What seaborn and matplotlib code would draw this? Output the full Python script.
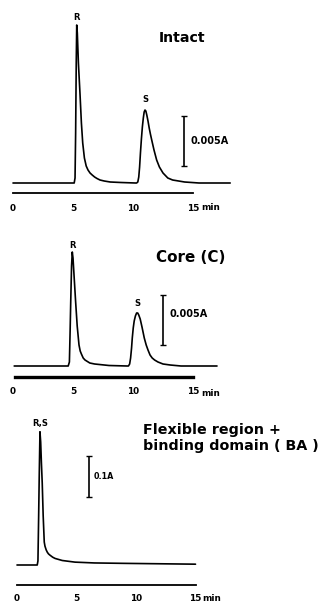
import matplotlib
matplotlib.use("Agg")
import matplotlib.pyplot as plt
import seaborn as sns

# ---------------- data ----------------
# Panel 1: Intact  (time in min, absorbance in A)
intact_t = [0.0, 5.10, 5.17, 5.22, 5.27, 5.31, 5.36, 5.45, 5.58, 5.70, 5.81, 5.95, 6.10,
            6.25, 6.42, 6.60, 6.80, 7.00, 7.25, 7.60, 8.10, 9.00, 10.20,
            10.30, 10.40, 10.48, 10.55, 10.62, 10.70, 10.78, 10.86, 10.93, 11.00, 11.07,
            11.15, 11.25, 11.35, 11.45, 11.56, 11.75, 11.97, 12.20, 12.50, 12.90, 13.30,
            14.30, 15.50, 18.10]
intact_a = [0.0, 0.0, 0.0005, 0.0050, 0.0120, 0.0158, 0.0150, 0.0120, 0.0090, 0.0060, 0.0040,
            0.0025, 0.0017, 0.0013, 0.0010, 0.0008, 0.0006, 0.00045, 0.0003, 0.0002, 0.0001,
            0.00005, 0.0,
            0.0, 0.0001, 0.0006, 0.0016, 0.0030, 0.0044, 0.0056, 0.0065, 0.0071, 0.0073, 0.0072,
            0.0068, 0.0062, 0.0055, 0.0049, 0.0043, 0.0033, 0.0023, 0.0016, 0.0010, 0.0005,
            0.0003, 0.0001, 0.0, 0.0]

# Panel 2: Core (C)
core_t = [0.1, 4.60, 4.70, 4.76, 4.81, 4.88, 4.94, 5.00, 5.10, 5.22, 5.35, 5.50, 5.60, 5.70,
          5.85, 6.00, 6.40, 6.80, 8.00, 9.50,
          9.62, 9.72, 9.80, 9.88, 9.94, 10.02, 10.10, 10.20, 10.30, 10.39, 10.48, 10.60,
          10.75, 10.94, 11.10, 11.25, 11.42, 11.60, 11.80, 12.08, 12.50, 13.10, 14.00, 17.00]
core_a = [0.0, 0.0, 0.0004, 0.0035, 0.0064, 0.0100, 0.0114, 0.0108, 0.0088, 0.0064, 0.0040,
          0.0021, 0.0015, 0.0012, 0.0008, 0.0006, 0.0003, 0.0002, 0.00005, 0.0,
          0.0, 0.0002, 0.0008, 0.0018, 0.0028, 0.0038, 0.0045, 0.0050, 0.0053, 0.0053, 0.0051,
          0.0047, 0.0039, 0.0028, 0.0021, 0.0016, 0.0011, 0.0008, 0.0006, 0.0004, 0.0002,
          0.0001, 0.0, 0.0]

# Panel 3: Flexible region + binding domain (BA)
flex_t = [0.0, 1.70, 1.76, 1.82, 1.87, 1.93, 1.99, 2.05, 2.12, 2.20, 2.29, 2.35, 2.45, 2.55,
          2.65, 2.77, 3.00, 3.20, 3.80, 4.87, 6.50, 9.00, 12.00, 15.00]
flex_a = [0.0, 0.0, 0.01, 0.12, 0.22, 0.325, 0.30, 0.25, 0.20, 0.12, 0.056, 0.046, 0.037,
          0.031, 0.027, 0.024, 0.019, 0.016, 0.011, 0.007, 0.005, 0.004, 0.003, 0.002]

tick_values = [0, 5, 10, 15]
tick_labels = ["0", "5", "10", "15"]
unit_label = "min"

titles = ["Intact", "Core (C)", "Flexible region +", "binding domain ( BA )"]
scale_labels = ["0.005A", "0.005A", "0.1A"]
scale_sizes = [0.005, 0.005, 0.1]

# ---------------- figure ----------------
sns.set_style("white")
plt.rcParams["font.family"] = ["DejaVu Sans"]
W, H = 322, 604
fig = plt.figure(figsize=(W / 100, H / 100), dpi=100)

BOLD = dict(fontweight="bold", color="black")
TICK_FS = 6.4


def make_ax(top_px, bottom_px, x0_px, px_per_min, base_px, a_per_px):
    ax = fig.add_axes([0, (H - bottom_px) / H, 1, (bottom_px - top_px) / H])
    ax.set_xlim(-x0_px / px_per_min, (W - x0_px) / px_per_min)
    ax.set_ylim(-(bottom_px - base_px) * a_per_px, (base_px - top_px) * a_per_px)
    ax.patch.set_alpha(0)
    for s in ["top", "left", "right"]:
        ax.spines[s].set_visible(False)
    ax.spines["bottom"].set_bounds(0, 15)
    ax.spines["bottom"].set_color("black")
    ax.set_yticks([])
    ax.set_xticks(tick_values)
    ax.set_xticklabels(tick_labels, fontsize=TICK_FS, fontweight="bold")
    ax.set_xlabel("")
    ax.set_ylabel("")
    return ax


def scale_bar(ax, x, y0, size, label, lx, ly, fs):
    ax.errorbar([x], [y0 + size / 2], yerr=[[size / 2], [size / 2]], fmt="none",
                ecolor="black", elinewidth=1.2, capsize=2.2, capthick=1.0)
    ax.text(lx, ly, label, fontsize=fs, va="center", ha="left", **BOLD)


# Panel 1 ---------------------------------------------------------
k1 = 1e-4
ax1 = make_ax(10, 193, 13, 12.0, 183, k1)
sns.lineplot(x=intact_t, y=intact_a, ax=ax1, color="black", lw=1.2, sort=False)
ax1.spines["bottom"].set_linewidth(1.3)
ax1.tick_params(axis="x", direction="out", length=3.6, width=1.2, pad=4.0, colors="black")
ax1.text(14.08, 0.0145, titles[0], fontsize=10.2, ha="center", va="center", **BOLD)
ax1.text(5.33, 0.0166, "R", fontsize=6.0, ha="center", va="center", **BOLD)
ax1.text(11.0, 0.0084, "S", fontsize=6.0, ha="center", va="center", **BOLD)
scale_bar(ax1, 14.25, 0.0017, scale_sizes[0], scale_labels[0], 14.8, 0.0042, 7.0)
ax1.text(15.7, -0.0025, unit_label, fontsize=TICK_FS, ha="left", va="center", **BOLD)

# Panel 2 ---------------------------------------------------------
ax2 = make_ax(235, 377, 13, 12.0, 366, k1)
sns.lineplot(x=core_t, y=core_a, ax=ax2, color="black", lw=1.2, sort=False)
ax2.spines["bottom"].set_bounds(0.15, 15)
ax2.spines["bottom"].set_linewidth(2.4)
ax2.tick_params(axis="x", length=0, pad=7.5, colors="black")
ax2.text(14.83, 0.0108, titles[1], fontsize=10.9, ha="center", va="center", **BOLD)
ax2.text(4.92, 0.0121, "R", fontsize=6.0, ha="center", va="center", **BOLD)
ax2.text(10.33, 0.0062, "S", fontsize=6.0, ha="center", va="center", **BOLD)
scale_bar(ax2, 12.5, 0.0021, scale_sizes[1], scale_labels[1], 13.05, 0.0052, 7.0)
ax2.text(15.7, -0.0027, unit_label, fontsize=TICK_FS, ha="left", va="center", **BOLD)

# Panel 3 ---------------------------------------------------------
k3 = 0.1 / 41
ax3 = make_ax(415, 585, 17, 11.9, 565, k3)
sns.lineplot(x=flex_t, y=flex_a, ax=ax3, color="black", lw=1.2, sort=False)
ax3.spines["bottom"].set_linewidth(1.3)
ax3.tick_params(axis="x", direction="in", length=3.6, width=1.2, pad=6.5, colors="black")
ax3.text(10.59, 0.329, titles[2], fontsize=10.3, ha="left", va="center", **BOLD)
ax3.text(10.59, 0.290, titles[3], fontsize=10.3, ha="left", va="center", **BOLD)
ax3.text(1.93, 0.344, "R,S", fontsize=6.0, ha="center", va="center", **BOLD)
scale_bar(ax3, 6.05, 0.166, scale_sizes[2], scale_labels[2], 6.45, 0.217, 5.8)
ax3.text(15.6, -0.0805, unit_label, fontsize=TICK_FS, ha="left", va="center", **BOLD)

for ax in (ax1, ax2, ax3):
    leg = ax.get_legend()
    if leg is not None:
        leg.remove()

fig.savefig("out.png", dpi=100, facecolor="white")
